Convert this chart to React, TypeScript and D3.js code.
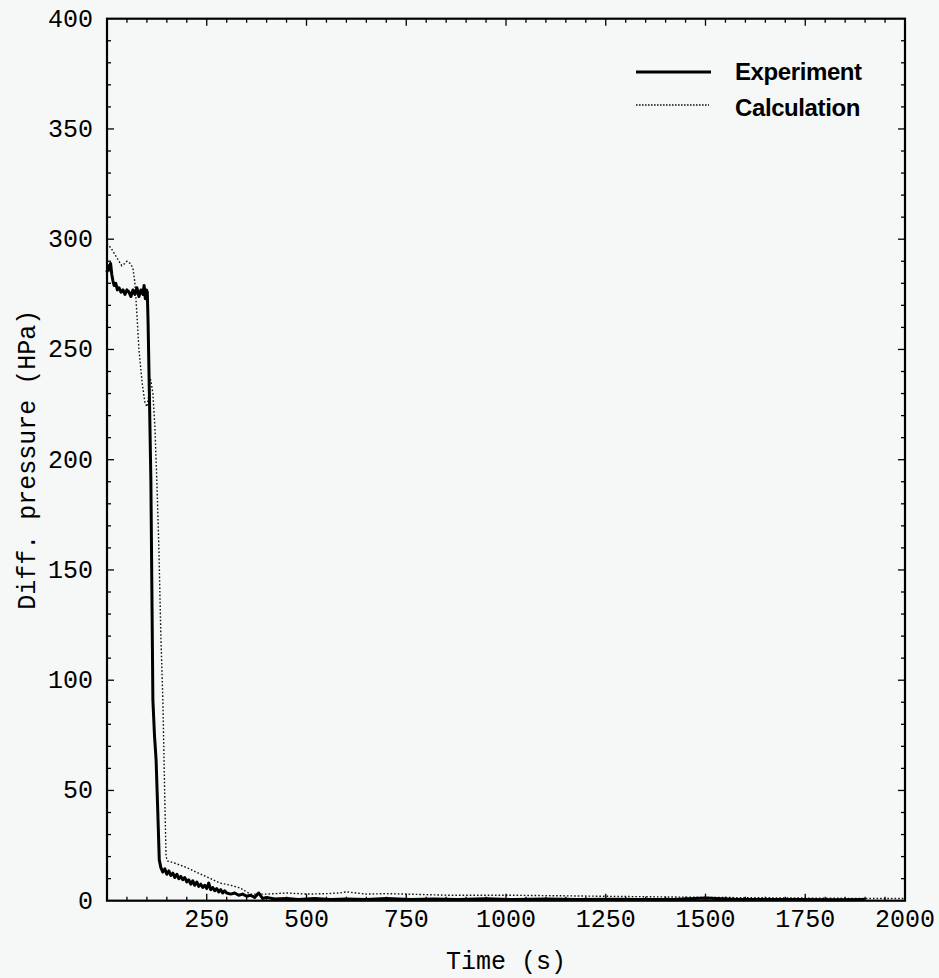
import React from "react";
import * as d3 from "d3";

// Measured differential pressure (solid)
const expTime = [0, 3, 6, 9, 12, 15, 18, 22, 26, 30, 35, 40, 45, 50, 55, 60, 65, 70, 75, 80, 85, 90, 93, 96, 99, 101, 103, 106, 110, 115, 119, 123, 127, 131, 135, 140, 145, 150, 155, 160, 165, 170, 175, 180, 185, 190, 195, 200, 205, 210, 215, 220, 225, 230, 235, 240, 245, 250, 255, 260, 265, 270, 275, 280, 285, 290, 295, 300, 310, 320, 330, 340, 350, 360, 370, 380, 390, 400, 420, 450, 480, 520, 560, 600, 650, 700, 760, 820, 880, 950, 1020, 1100, 1180, 1260, 1340, 1420, 1500, 1580, 1660, 1740, 1820, 1900];
const expValue = [285, 288, 286, 289, 284, 281, 279, 280, 277, 278, 276, 277, 275, 277, 276, 274, 277, 275, 278, 274, 277, 275, 279, 273, 277, 276, 262, 232, 190, 91, 75, 64, 42, 18.5, 15, 13, 14.5, 12, 13.5, 11.5, 12.5, 10.5, 12, 10, 11, 9.5, 10.5, 8.5, 9.5, 7.5, 9, 7, 8.5, 6.5, 7.5, 6, 7, 5.5, 8, 5, 6, 4.5, 5.5, 4, 5, 3.5, 4.5, 3.5, 3, 3.5, 2.5, 3, 2, 2.5, 1.5, 3.5, 1, 1.5, 0.8, 1, 0.6, 1, 0.5, 0.8, 0.6, 1, 0.5, 0.8, 0.6, 0.9, 0.5, 0.8, 0.6, 0.7, 0.5, 0.6, 1.2, 0.5, 0.6, 0.5, 0.4, 0.5];

// Computed differential pressure (dotted)
const calcTime = [0, 10, 20, 30, 37, 45, 50, 58, 65, 70, 75, 80, 88, 95, 100, 104, 107, 110, 115, 120, 125, 130, 135, 140, 145, 148, 152, 170, 200, 228, 260, 283, 310, 333, 350, 360, 400, 450, 500, 550, 584, 600, 650, 700, 750, 850, 1000, 1250, 1500, 1750, 1900, 2000];
const calcValue = [298, 296, 293, 290, 288, 289, 290, 289, 287, 280, 266, 250, 235, 226, 224, 228, 237, 236, 230, 215, 190, 160, 120, 91, 45, 20, 18, 17, 15, 12.6, 10, 8, 7, 5.8, 4, 3, 3, 3.5, 3, 3.2, 3.5, 4, 3, 3.2, 3, 2.5, 2.5, 2, 1.5, 1.2, 1, 1];

const xTicks = [250, 500, 750, 1000, 1250, 1500, 1750, 2000];
const yTicks = [0, 50, 100, 150, 200, 250, 300, 350, 400];
const legendLabels = ["Experiment", "Calculation"];

const W = 939;
const H = 978;
const left = 107;
const right = 905;
const top = 18.7;
const bottom = 900.7;

export default function App() {
  const x = d3.scaleLinear().domain([0, 2000]).range([left, right]);
  const y = d3.scaleLinear().domain([0, 400]).range([bottom, top]);

  const line = d3
    .line<[number, number]>()
    .x((d) => x(d[0]))
    .y((d) => y(d[1]));

  const expPts = expTime.map((t, i) => [t, expValue[i]] as [number, number]);
  const calcPts = calcTime.map((t, i) => [t, calcValue[i]] as [number, number]);

  const xMinor = d3.range(50, 2000, 50);
  const yMinor = d3.range(10, 400, 10);

  const mono = "'Liberation Mono', 'Courier New', monospace";
  const sans = "'Liberation Sans', Arial, sans-serif";

  return (
    <svg
      width={W}
      height={H}
      style={{ position: "absolute", left: 0, top: 0, background: "#f6f8f7" }}
    >
      <rect x={0} y={0} width={W} height={H} fill="#f6f8f7" />

      {/* data lines */}
      <path
        d={line(calcPts) ?? ""}
        fill="none"
        stroke="#111"
        strokeWidth={1.4}
        strokeDasharray="1.6 2"
      />
      <path
        d={line(expPts) ?? ""}
        fill="none"
        stroke="#000"
        strokeWidth={3}
        strokeLinejoin="round"
      />

      {/* minor ticks, inward on all four sides */}
      {xMinor.map((t) => {
        const len = t % 250 === 0 ? 7 : 4;
        return (
          <g key={"xm" + t} stroke="#000" strokeWidth={1.3}>
            <line x1={x(t)} x2={x(t)} y1={bottom} y2={bottom - len} />
            <line x1={x(t)} x2={x(t)} y1={top} y2={top + len} />
          </g>
        );
      })}
      {yMinor.map((v) => {
        const len = v % 50 === 0 ? 7 : 4;
        return (
          <g key={"ym" + v} stroke="#000" strokeWidth={1.3}>
            <line x1={left} x2={left + len} y1={y(v)} y2={y(v)} />
            <line x1={right} x2={right - len} y1={y(v)} y2={y(v)} />
          </g>
        );
      })}

      {/* frame */}
      <rect
        x={left}
        y={top}
        width={right - left}
        height={bottom - top}
        fill="none"
        stroke="#000"
        strokeWidth={2.2}
      />

      {/* tick labels */}
      {xTicks.map((t) => (
        <text
          key={"xt" + t}
          x={x(t)}
          y={927}
          textAnchor="middle"
          fontFamily={mono}
          fontSize={25}
          fill="#000"
        >
          {t}
        </text>
      ))}
      {yTicks.map((v) => (
        <text
          key={"yt" + v}
          x={93}
          y={y(v) + 8}
          textAnchor="end"
          fontFamily={mono}
          fontSize={25}
          fill="#000"
        >
          {v}
        </text>
      ))}

      {/* axis titles */}
      <text
        x={(left + right) / 2}
        y={969}
        textAnchor="middle"
        fontFamily={mono}
        fontSize={25}
        fill="#000"
      >
        Time (s)
      </text>
      <text
        transform={`translate(35, ${(top + bottom) / 2}) rotate(-90)`}
        textAnchor="middle"
        fontFamily={mono}
        fontSize={25}
        fill="#000"
      >
        Diff. pressure (HPa)
      </text>

      {/* legend */}
      <line x1={636} x2={711} y1={72} y2={72} stroke="#000" strokeWidth={3.2} />
      <line
        x1={636}
        x2={709}
        y1={105}
        y2={105}
        stroke="#111"
        strokeWidth={1.4}
        strokeDasharray="1.6 1.4"
      />
      <text
        x={735}
        y={80}
        fontFamily={sans}
        fontWeight="bold"
        fontSize={24}
        letterSpacing={-0.4}
        fill="#000"
      >
        {legendLabels[0]}
      </text>
      <text
        x={735}
        y={116}
        fontFamily={sans}
        fontWeight="bold"
        fontSize={24}
        letterSpacing={-0.4}
        fill="#000"
      >
        {legendLabels[1]}
      </text>
    </svg>
  );
}
